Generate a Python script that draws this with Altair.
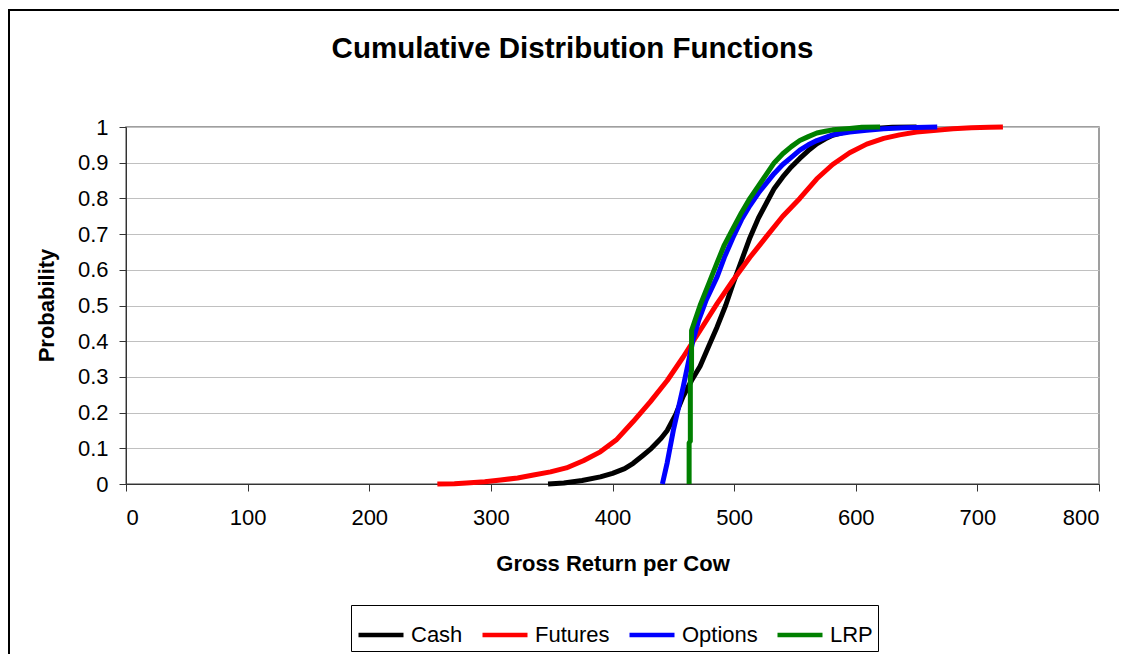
import altair as alt
import pandas as pd

# ---- data ----
cash_x = [347, 360, 375, 390, 400, 410, 417, 425, 432, 440, 445, 452, 458, 465, 472, 479, 486, 493, 499, 506, 513, 520, 527, 533, 540, 547, 554, 561, 568, 575, 581, 590, 600, 615, 630, 650]
cash_p = [0, 0.003, 0.01, 0.02, 0.03, 0.043, 0.058, 0.08, 0.1, 0.128, 0.15, 0.195, 0.245, 0.29, 0.33, 0.385, 0.44, 0.5, 0.56, 0.625, 0.69, 0.745, 0.79, 0.828, 0.86, 0.888, 0.912, 0.934, 0.953, 0.967, 0.977, 0.985, 0.991, 0.996, 0.999, 1.0]

fut_x = [256, 270, 280, 295, 308, 322, 335, 349, 362, 376, 390, 403, 417, 431, 445, 458, 472, 486, 499, 513, 527, 540, 554, 568, 581, 595, 609, 623, 636, 650, 664, 680, 695, 710, 721]
fut_p = [0, 0.001, 0.003, 0.006, 0.011, 0.017, 0.025, 0.034, 0.045, 0.065, 0.09, 0.123, 0.175, 0.23, 0.29, 0.355, 0.43, 0.505, 0.57, 0.635, 0.695, 0.75, 0.8, 0.855, 0.895, 0.928, 0.952, 0.968, 0.978, 0.986, 0.99, 0.995, 0.998, 0.999, 1.0]

opt_x = [441, 445, 450, 454, 458, 462, 466, 471, 477, 486, 492, 499, 506, 513, 520, 527, 533, 540, 547, 554, 561, 568, 581, 595, 609, 623, 640, 667]
opt_p = [0, 0.06, 0.15, 0.21, 0.27, 0.335, 0.4, 0.46, 0.515, 0.58, 0.635, 0.69, 0.74, 0.78, 0.815, 0.845, 0.87, 0.895, 0.915, 0.935, 0.95, 0.962, 0.978, 0.986, 0.991, 0.995, 0.998, 1.0]

lrp_x = [463, 463, 464, 464, 465, 465, 468, 472, 479, 486, 492, 499, 506, 513, 520, 527, 533, 540, 547, 554, 561, 568, 575, 581, 595, 605, 620]
lrp_p = [0, 0.115, 0.12, 0.3, 0.32, 0.43, 0.46, 0.5, 0.56, 0.62, 0.67, 0.715, 0.76, 0.8, 0.835, 0.87, 0.9, 0.925, 0.945, 0.962, 0.973, 0.983, 0.988, 0.992, 0.996, 0.999, 1.0]

series_names = ["Cash", "Futures", "Options", "LRP"]
series_colors = ["#000000", "#FF0000", "#0000FF", "#008000"]
x_ticks = [0, 100, 200, 300, 400, 500, 600, 700, 800]
y_ticks = [0, 0.1, 0.2, 0.3, 0.4, 0.5, 0.6, 0.7, 0.8, 0.9, 1]

rows = []
for name, xs, ps in zip(series_names, [cash_x, fut_x, opt_x, lrp_x], [cash_p, fut_p, opt_p, lrp_p]):
    for i, (xv, pv) in enumerate(zip(xs, ps)):
        rows.append({"series": name, "x": xv, "p": pv, "i": i})
df = pd.DataFrame(rows)

FONT = "Liberation Sans"

lines = alt.Chart(df).mark_line(strokeWidth=5, strokeJoin="round").encode(
    x=alt.X("x:Q", scale=alt.Scale(domain=[0, 800], nice=False),
            axis=alt.Axis(values=x_ticks, title="Gross Return per Cow", grid=False,
                          tickSize=7, labelPadding=16, labelFontSize=22,
                          titleFontSize=22, titleFontWeight="bold",
                          titleY=86, titleBaseline="alphabetic",
                          domainColor="#333333", tickColor="#333333",
                          labelColor="#000000", titleColor="#000000")),
    y=alt.Y("p:Q", scale=alt.Scale(domain=[0, 1], nice=False),
            axis=alt.Axis(values=y_ticks, format="~g", title="Probability", grid=True,
                          gridColor="#C0C0C0", gridWidth=1.2,
                          tickSize=7, labelPadding=11, labelFontSize=22,
                          titleFontSize=22, titleFontWeight="bold",
                          titleX=-73, titleY=178, titleBaseline="alphabetic",
                          titleAngle=270,
                          domainColor="#333333", tickColor="#333333",
                          labelColor="#000000", titleColor="#000000")),
    color=alt.Color("series:N",
                    scale=alt.Scale(domain=series_names, range=series_colors),
                    sort=series_names,
                    legend=alt.Legend(title=None, orient="none", legendX=225, legendY=478,
                                      direction="horizontal", columns=4,
                                      strokeColor="#000000", padding=5,
                                      symbolType="stroke", symbolSize=2025,
                                      symbolStrokeWidth=4.5, labelFontSize=22,
                                      labelOffset=5, columnPadding=10,
                                      labelColor="#000000")),
    order=alt.Order("i:Q"),
)

frame_left = alt.Chart(pd.DataFrame({"k": [0]})).mark_rule(color="#000000", strokeWidth=2).encode(
    x=alt.value(-117), y=alt.value(-118), y2=alt.value(560)
)
frame_top = alt.Chart(pd.DataFrame({"k": [0]})).mark_rule(color="#000000", strokeWidth=2).encode(
    x=alt.value(-117), x2=alt.value(1100), y=alt.value(-117)
)

chart = alt.layer(lines, frame_left, frame_top).properties(
    width=973, height=357,
    autosize=alt.AutoSizeParams(type="none"),
    padding={"left": 118, "top": 119, "right": 20, "bottom": 170},
    title=alt.TitleParams(text="Cumulative Distribution Functions", font=FONT,
                          fontSize=29.5, fontWeight="bold", color="#000000",
                          anchor="middle", dx=-40, offset=-79, baseline="alphabetic"),
).configure(font=FONT).configure_view(stroke="#808080", strokeWidth=1.5)

chart.save("out.html", embed_options={"renderer": "svg", "actions": False})
